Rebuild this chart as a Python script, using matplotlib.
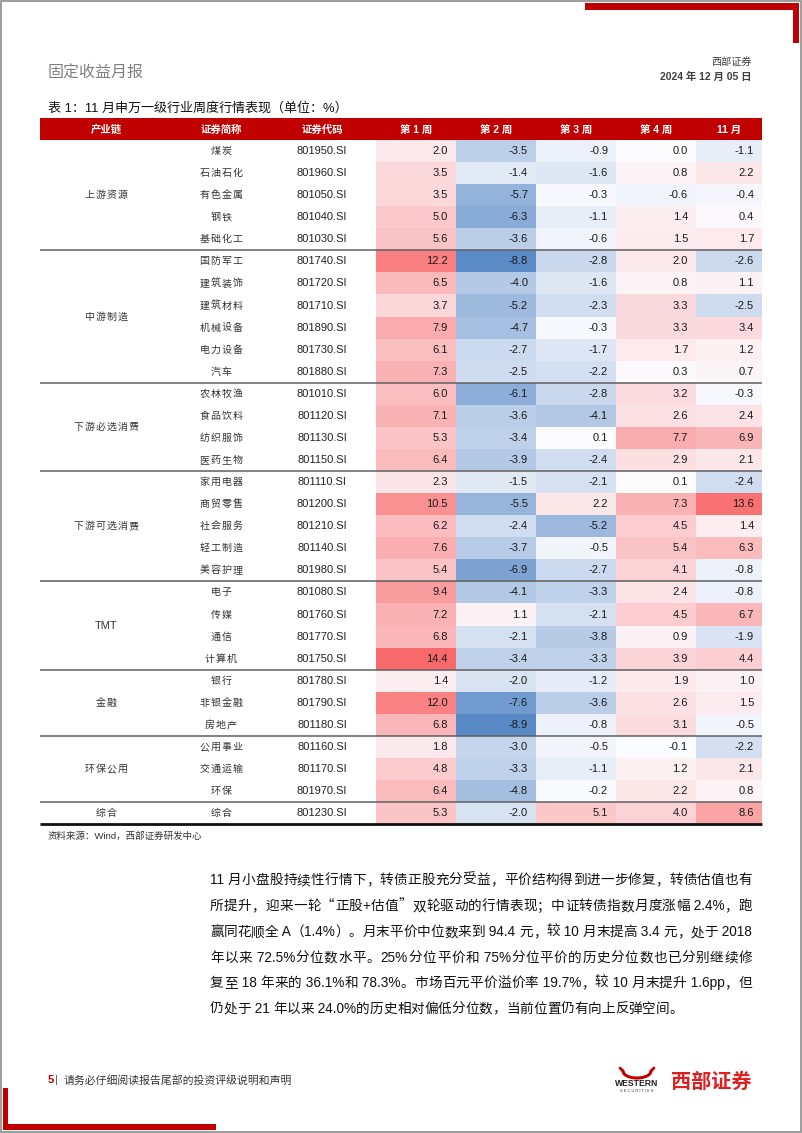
import numpy as np
import matplotlib
matplotlib.use("Agg")
import matplotlib.pyplot as plt
from matplotlib.colors import LinearSegmentedColormap, TwoSlopeNorm
from matplotlib.patches import Rectangle

# ---------------- data ----------------
groups = ['上游资源', '中游制造', '下游必选消费', '下游可选消费', 'TMT', '金融', '环保公用', '综合']
group_sizes = [5, 6, 4, 5, 4, 3, 3, 1]
names = ['煤炭', '石油石化', '有色金属', '钢铁', '基础化工',
         '国防军工', '建筑装饰', '建筑材料', '机械设备', '电力设备', '汽车',
         '农林牧渔', '食品饮料', '纺织服饰', '医药生物',
         '家用电器', '商贸零售', '社会服务', '轻工制造', '美容护理',
         '电子', '传媒', '通信', '计算机',
         '银行', '非银金融', '房地产',
         '公用事业', '交通运输', '环保',
         '综合']
codes = ['801950.SI', '801960.SI', '801050.SI', '801040.SI', '801030.SI',
         '801740.SI', '801720.SI', '801710.SI', '801890.SI', '801730.SI', '801880.SI',
         '801010.SI', '801120.SI', '801130.SI', '801150.SI',
         '801110.SI', '801200.SI', '801210.SI', '801140.SI', '801980.SI',
         '801080.SI', '801760.SI', '801770.SI', '801750.SI',
         '801780.SI', '801790.SI', '801180.SI',
         '801160.SI', '801170.SI', '801970.SI',
         '801230.SI']
week1 = [2.0, 3.5, 3.5, 5.0, 5.6, 12.2, 6.5, 3.7, 7.9, 6.1, 7.3, 6.0, 7.1, 5.3, 6.4,
         2.3, 10.5, 6.2, 7.6, 5.4, 9.4, 7.2, 6.8, 14.4, 1.4, 12.0, 6.8, 1.8, 4.8, 6.4, 5.3]
week2 = [-3.5, -1.4, -5.7, -6.3, -3.6, -8.8, -4.0, -5.2, -4.7, -2.7, -2.5, -6.1, -3.6, -3.4, -3.9,
         -1.5, -5.5, -2.4, -3.7, -6.9, -4.1, 1.1, -2.1, -3.4, -2.0, -7.6, -8.9, -3.0, -3.3, -4.8, -2.0]
week3 = [-0.9, -1.6, -0.3, -1.1, -0.6, -2.8, -1.6, -2.3, -0.3, -1.7, -2.2, -2.8, -4.1, 0.1, -2.4,
         -2.1, 2.2, -5.2, -0.5, -2.7, -3.3, -2.1, -3.8, -3.3, -1.2, -3.6, -0.8, -0.5, -1.1, -0.2, 5.1]
week4 = [0.0, 0.8, -0.6, 1.4, 1.5, 2.0, 0.8, 3.3, 3.3, 1.7, 0.3, 3.2, 2.6, 7.7, 2.9,
         0.1, 7.3, 4.5, 5.4, 4.1, 2.4, 4.5, 0.9, 3.9, 1.9, 2.6, 3.1, -0.1, 1.2, 2.2, 4.0]
month = [-1.1, 2.2, -0.4, 0.4, 1.7, -2.6, 1.1, -2.5, 3.4, 1.2, 0.7, -0.3, 2.4, 6.9, 2.1,
         -2.4, 13.6, 1.4, 6.3, -0.8, -0.8, 6.7, -1.9, 4.4, 1.0, 1.5, -0.5, -2.2, 2.1, 0.8, 8.6]
col_headers = ['产业链', '证券简称', '证券代码', '第 1 周', '第 2 周', '第 3 周', '第 4 周', '11 月']

title = '表 1：11 月申万一级行业周度行情表现（单位：%）'
source = '资料来源：Wind，西部证券研发中心'
paragraph = [
    '11 月小盘股持续性行情下，转债正股充分受益，平价结构得到进一步修复，转债估值也有',
    '所提升，迎来一轮“正股+估值”双轮驱动的行情表现；中证转债指数月度涨幅 2.4%，跑',
    '赢同花顺全 A（1.4%）。月末平价中位数来到 94.4 元，较 10 月末提高 3.4 元，处于 2018',
    '年以来 72.5%分位数水平。25%分位平价和 75%分位平价的历史分位数也已分别继续修',
    '复至 18 年来的 36.1%和 78.3%。市场百元平价溢价率 19.7%，较 10 月末提升 1.6pp，但',
    '仍处于 21 年以来 24.0%的历史相对偏低分位数，当前位置仍有向上反弹空间。',
]

# ---------------- setup ----------------
FAM = ['Liberation Sans', 'Noto Sans CJK SC', 'DejaVu Sans']
CJK = ['Noto Sans CJK SC', 'DejaVu Sans']
plt.rcParams['font.family'] = FAM

W, H = 802, 1133
fig = plt.figure(figsize=(W / 100, H / 100), dpi=100)
ax = fig.add_axes([0, 0, 1, 1])
ax.set_xlim(0, W)
ax.set_ylim(H, 0)
ax.axis('off')
renderer = fig.canvas.get_renderer()

RED = '#C00000'

# page frame and decorations
ax.add_patch(Rectangle((0.5, 0.5), W - 1.5, H - 1.5, fill=False, ec='#8c8c8c', lw=1.2))
ax.add_patch(Rectangle((585, 3), 214, 7, color=RED, lw=0))
ax.add_patch(Rectangle((793, 3), 6, 40, color=RED, lw=0))
ax.add_patch(Rectangle((3, 1088), 5, 42, color=RED, lw=0))
ax.add_patch(Rectangle((3, 1124), 213, 6, color=RED, lw=0))

# header
ax.text(48, 73, '固定收益月报', fontsize=11.5, color='#808080', family=CJK, va='center', ha='left')
ax.text(752, 62, '西部证券', fontsize=7.3, color='#404040', family=CJK, va='center', ha='right')
ax.text(752, 77, '2024 年 12 月 05 日', fontsize=7.5, color='#404040', family=FAM,
        va='center', ha='right', fontweight='bold')
ax.text(48, 108, title, fontsize=9.4, color='#111111', family=FAM, va='center', ha='left')

# table header band
x_left, x_right = 40, 762
ax.add_patch(Rectangle((x_left, 118), x_right - x_left, 22, color=RED, lw=0))
col_edges = np.array([376, 456, 536, 616, 696, 762])
hdr_x = [106, 221, 322] + list((col_edges[:-1] + col_edges[1:]) / 2)
for hx, ht in zip(hdr_x, col_headers):
    ax.text(hx, 129.5, ht, fontsize=7.5, color='white', fontweight='bold', family=FAM,
            ha='center', va='center')

# heatmap
vals = np.column_stack([week1, week2, week3, week4, month])
n = len(names)
row_top, row_h = 140, 22.07
y_edges = row_top + row_h * np.arange(n + 1)
cmap = LinearSegmentedColormap.from_list('bwr_xl', ['#5A8AC6', '#FCFCFF', '#F8696B'])
norm = TwoSlopeNorm(vmin=vals.min(), vcenter=0.0, vmax=vals.max())
ax.pcolormesh(col_edges, y_edges, vals, cmap=cmap, norm=norm, shading='flat')


def measure(s, size, fam):
    t = ax.text(0, 0, s, fontsize=size, family=fam)
    w = t.get_window_extent(renderer).width
    t.remove()
    return w


def ascii_advance(s, size):
    return measure('|' + s + '|', size, FAM) - measure('||', size, FAM)


def spaced_center(x, y, s, size, color, gap):
    """CJK string centred at x; each glyph in its own 1-em box, common baseline."""
    em = size * 100 / 72
    total = em * len(s) + gap * (len(s) - 1)
    cx = x - total / 2
    base = y + 0.30 * em
    for ch in s:
        ax.text(cx + em / 2, base, ch, fontsize=size, color=color, family=CJK,
                ha='center', va='baseline')
        cx += em + gap


centers = (y_edges[:-1] + y_edges[1:]) / 2
for i in range(n):
    yc = centers[i]
    spaced_center(221, yc, names[i], 7.2, '#333333', 1.0)
    ax.text(322, yc, codes[i], fontsize=8, color='#222222', family=FAM, ha='center', va='center')
    for j in range(vals.shape[1]):
        ax.text(col_edges[j + 1] - 8, yc, f'{vals[i, j]:.1f}', fontsize=8, color='#1a1a1a',
                family=FAM, ha='right', va='center')

# group labels and separators
start = 0
for gi, (g, s) in enumerate(zip(groups, group_sizes)):
    gy = (y_edges[start] + y_edges[start + s]) / 2
    if g == 'TMT':
        ax.text(106, gy, g, fontsize=8, color='#333333', family=FAM, ha='center', va='center')
    else:
        spaced_center(106, gy, g, 7.2, '#333333', 1.0)
    start += s
    yb = y_edges[start]
    if gi < len(groups) - 1:
        ax.plot([x_left, x_right], [yb, yb], color='#5f5f5f', lw=1.1, solid_capstyle='butt')
    else:
        ax.plot([x_left, x_right], [yb, yb], color='#111111', lw=2.0, solid_capstyle='butt')

ax.text(48, 836, source, fontsize=6.8, color='#333333', family=FAM, ha='left', va='center')


# paragraph (justified)
def tokenize(line):
    toks, cur = [], ''
    for ch in line:
        if ord(ch) < 128:
            cur += ch
        else:
            if cur:
                toks.append(cur)
                cur = ''
            toks.append(ch)
    if cur:
        toks.append(cur)
    return toks


para_y = [880, 906, 932, 957.5, 983, 1008.5]
px0, px1 = 210, 752
psize = 9.8
pem = psize * 100 / 72
for li, (ln, py) in enumerate(zip(paragraph, para_y)):
    base = py + 0.30 * pem
    toks = tokenize(ln)
    widths = [ascii_advance(tk, psize) if ord(tk[0]) < 128 else pem for tk in toks]
    if li == len(paragraph) - 1:
        gap = 0.0
    else:
        gap = (px1 - px0 - sum(widths)) / (len(toks) - 1)
    cx = px0
    for tk, w in zip(toks, widths):
        if ord(tk[0]) < 128:
            ax.text(cx, base, tk.replace(' ', '\u00a0'), fontsize=psize, color='#111111',
                    family=FAM, ha='left', va='baseline')
        else:
            ax.text(cx + w / 2, base, tk, fontsize=psize, color='#111111', family=CJK,
                    ha='center', va='baseline')
        cx += w + gap

# footer
ax.text(48, 1080, '5', fontsize=8, color=RED, fontweight='bold', family=FAM, ha='left', va='center')
ax.text(55, 1080, '|', fontsize=8, color='#555555', family=FAM, ha='left', va='center')
ax.text(64, 1080, '请务必仔细阅读报告尾部的投资评级说明和声明', fontsize=7.8, color='#333333',
        family=CJK, ha='left', va='center')

# logo
t = np.linspace(-1, 1, 60)
hx = 637 + 14 * t
hy = 1071 + 7 * (1 - t ** 2) ** 0.5
ax.plot(hx, hy, color=RED, lw=2.2, solid_capstyle='round')
ax.plot([623, 620], [1071, 1068], color=RED, lw=2, solid_capstyle='round')
ax.plot([651, 654], [1071, 1068], color=RED, lw=2, solid_capstyle='round')
ax.text(637, 1084, 'WESTERN', fontsize=6.2, fontweight='bold', color='#222222', family=FAM,
        ha='center', va='center')
ax.text(637, 1091.5, 'S E C U R I T I E S', fontsize=2.8, color='#333333', family=FAM,
        ha='center', va='center')
ax.text(752, 1081, '西部证券', fontsize=14.5, fontweight='bold', color='#E02020', family=CJK,
        ha='right', va='center')

fig.savefig('out.png', dpi=100)
